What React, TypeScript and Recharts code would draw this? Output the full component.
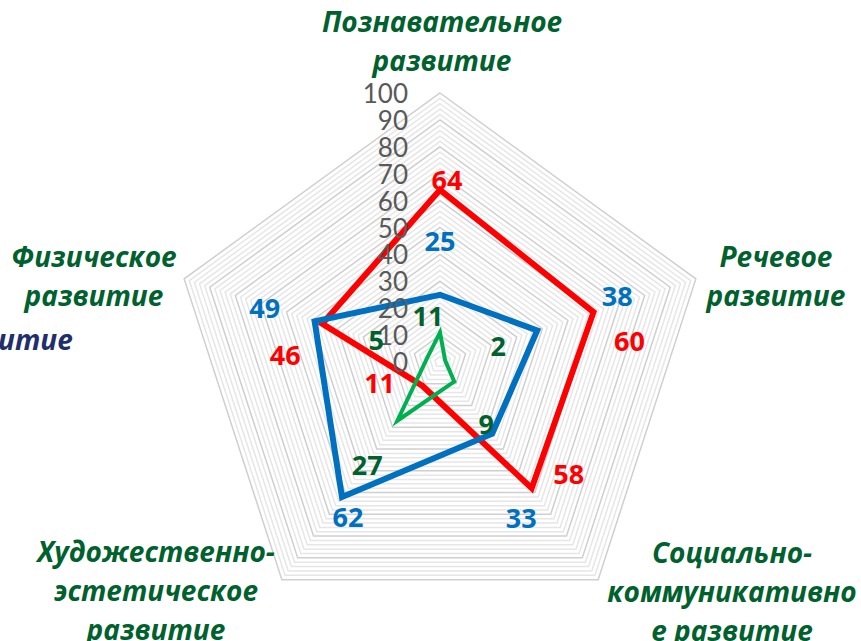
import React from 'react';
import { RadarChart, Radar, PolarGrid, PolarAngleAxis, PolarRadiusAxis } from 'recharts';

const categories = [
  'Познавательное развитие',
  'Речевое развитие',
  'Социально-коммуникативное развитие',
  'Художественно-эстетическое развитие',
  'Физическое развитие',
];
const redValues = [64, 60, 58, 11, 46];
const blueValues = [25, 38, 33, 62, 49];
const greenValues = [11, 2, 9, 27, 5];
const radiusTicks = [0, 10, 20, 30, 40, 50, 60, 70, 80, 90, 100];

// how the category names wrap in the picture
const categoryLines = [
  ['Познавательное', 'развитие'],
  ['Речевое', 'развитие'],
  ['Социально-', 'коммуникативно', 'е развитие'],
  ['Художественно-', 'эстетическое', 'развитие'],
  ['Физическое', 'развитие'],
];

// layout / style
const CX = 440;
const CY = 362;
const R = 269;
const FONT = 'Lato, "Open Sans", sans-serif';
const BOLD_FONT = '"Open Sans", Lato, sans-serif';
const LABEL_GREEN = '#00612e';
const catPos = [
  { x: 442, y: 21 },
  { x: 776, y: 256 },
  { x: 732, y: 552 },
  { x: 156, y: 551 },
  { x: 94, y: 256 },
];
const redOffsets = [[7, -10], [36, 28], [37, -15], [-43, -3], [-37, 31]];
const blueOffsets = [[0, -54], [80, -35], [29, 84], [6, 20], [-50, -14]];
const greenOffsets = [[-12, -17], [53, -15], [32, 42], [-30, 44], [-51, -18]];

const data = categories.map((name, i) => ({
  name,
  red: redValues[i],
  blue: blueValues[i],
  green: greenValues[i],
}));

const mainRadii = radiusTicks.slice(1).map((t) => (t / 100) * R);
const shadowRadii: number[] = [];
for (let v = 2; v < 100; v += 2) {
  if (v % 10 !== 0) shadowRadii.push((v / 100) * R);
}

const makeLabel = (offsets: number[][], color: string) => (props: any) => {
  const { cx, cy, index, value } = props;
  const off = offsets[index] || [0, 0];
  return (
    <text
      key={`lbl-${color}-${index}`}
      x={cx + off[0]}
      y={cy + off[1]}
      textAnchor="middle"
      dominantBaseline="central"
      fill={color}
      fontFamily={BOLD_FONT}
      fontWeight={700}
      fontSize={27}
    >
      {value}
    </text>
  );
};

const CategoryTick = (props: any) => {
  const { index } = props;
  const pos = catPos[index];
  const lines = categoryLines[index] || [];
  return (
    <g>
      {lines.map((line, i) => (
        <text
          key={i}
          x={pos.x}
          y={pos.y + i * 39}
          textAnchor="middle"
          dominantBaseline="central"
          fill={LABEL_GREEN}
          fontFamily={BOLD_FONT}
          fontWeight={700}
          fontStyle="italic"
          fontSize={28}
        >
          {line}
        </text>
      ))}
      {index === 4 && (
        <text
          x={-2}
          y={339}
          textAnchor="start"
          dominantBaseline="central"
          fill="#1f2f6b"
          fontFamily={BOLD_FONT}
          fontWeight={700}
          fontStyle="italic"
          fontSize={28}
        >
          итие
        </text>
      )}
    </g>
  );
};

const RadiusTick = (props: any) => {
  const { x, y, payload } = props;
  return (
    <text
      x={x - 32}
      y={y}
      textAnchor="end"
      dominantBaseline="central"
      fill="#595959"
      fontFamily={FONT}
      fontSize={26}
    >
      {payload.value}
    </text>
  );
};

export default function App() {
  return (
    <div style={{ position: 'absolute', left: 0, top: 0, width: 861, height: 641, background: '#fff' }}>
      <RadarChart
        width={861}
        height={641}
        data={data}
        cx={CX}
        cy={CY}
        outerRadius={R}
        margin={{ top: 0, right: 0, bottom: 0, left: 0 }}
      >
        <PolarGrid gridType="polygon" radialLines={false} polarRadius={shadowRadii} stroke="#e6e6e6" strokeWidth={1.5} />
        <PolarGrid gridType="polygon" radialLines={false} polarRadius={mainRadii} stroke="#cfcfcf" strokeWidth={1.5} />
        <PolarAngleAxis dataKey="name" tick={<CategoryTick />} tickLine={false} axisLine={false} />
        <PolarRadiusAxis
          angle={90}
          domain={[0, 100]}
          ticks={radiusTicks}
          tick={<RadiusTick />}
          axisLine={false}
          tickLine={false}
        />
        <Radar
          dataKey="red"
          stroke="#ff0000"
          strokeWidth={6}
          fill="none"
          fillOpacity={0}
          strokeLinejoin="miter"
          dot={makeLabel(redOffsets, '#ff0000')}
          isAnimationActive={false}
        />
        <Radar
          dataKey="blue"
          stroke="#0070c0"
          strokeWidth={6}
          fill="none"
          fillOpacity={0}
          strokeLinejoin="miter"
          dot={makeLabel(blueOffsets, '#0070c0')}
          isAnimationActive={false}
        />
        <Radar
          dataKey="green"
          stroke="#00b050"
          strokeWidth={4}
          fill="none"
          fillOpacity={0}
          strokeLinejoin="miter"
          dot={makeLabel(greenOffsets, LABEL_GREEN)}
          isAnimationActive={false}
        />
      </RadarChart>
    </div>
  );
}
